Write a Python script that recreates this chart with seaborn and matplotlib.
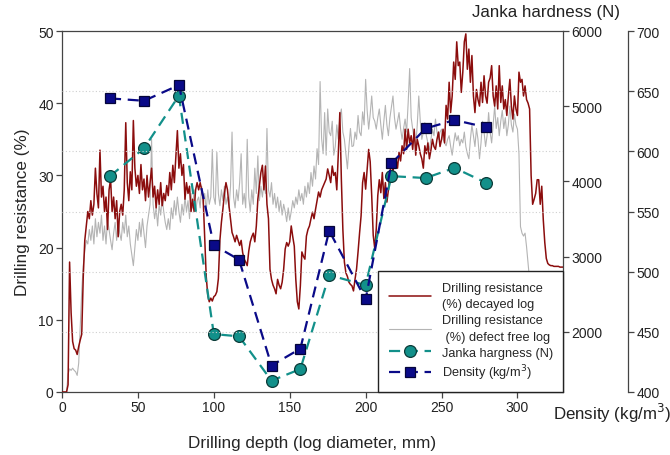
import numpy as np
import pandas as pd
import matplotlib
matplotlib.use("Agg")
import matplotlib.pyplot as plt
from matplotlib.ticker import FixedLocator
import seaborn as sns

# ---- Drilling resistance profiles (%), sampled every 1 mm of drilling depth ----
depth_mm = np.arange(0, 331)

decayed_log = [
    0, 0, 0, 0, 1, 18, 11, 7, 6, 5.8,
    5.2, 6.3, 7.2, 8.0, 16, 21, 23, 25, 24, 26.5,
    24.5, 26, 31, 27.5, 25.5, 33.5, 27, 28.5, 25, 27,
    22.5, 28, 29.5, 25, 27, 24, 26.5, 21.5, 25, 26,
    24.5, 28, 37.3, 29, 26.5, 30.5, 28, 37.6, 31, 28.5,
    30, 27.5, 31.5, 28, 29.5, 26.5, 30, 27, 29, 31,
    27, 28.5, 25.5, 28, 26, 29, 25.8, 27.5, 26.5, 28.6,
    27.2, 30.4, 28, 31.4, 29, 32.5, 36.2, 31, 33, 30,
    31.5, 26.7, 29, 27.5, 28.5, 25, 26.7, 25, 28, 29,
    28, 29, 28, 26.7, 21.2, 16, 13.4, 12.5, 13, 12.6,
    13.2, 13.4, 13.9, 15.7, 21, 23.5, 25.4, 27.5, 29, 28,
    25.8, 24, 22.1, 21.5, 20.8, 21.7, 21, 20.3, 21, 19.3,
    18.4, 18, 17.5, 19.5, 20.8, 21.5, 22, 20.8, 23, 26.7,
    28.5, 30.4, 31.4, 28, 31.3, 26, 24, 17, 15.6, 14.8,
    14.3, 13.6, 15.6, 14.8, 14.3, 15.2, 17, 19.8, 20.7, 20.2,
    20.8, 23, 21.5, 20.2, 15.6, 12.5, 11.5, 14.7, 19.4, 18.8,
    18.4, 21.6, 22.5, 23, 24, 24.9, 24, 25.3, 26.5, 27.7,
    27, 28, 28.5, 29, 29.5, 30.9, 30, 29, 31.3, 30,
    30.4, 28, 33, 38.7, 29.5, 22.5, 18, 16.5, 16, 15.2,
    14.9, 14.7, 14, 15.6, 17, 19.4, 22, 24.4, 29, 30.4,
    28.1, 30.9, 33.6, 31.9, 27.2, 21.7, 19.9, 22.6, 27.2, 29.4,
    27.6, 30.4, 26.8, 29, 26.3, 28, 30.4, 31.9, 30.5, 32,
    32.3, 31, 33.2, 32, 34.1, 33, 36.4, 33.6, 36.4, 34.5,
    35.5, 33.6, 36.4, 32.8, 35, 34.1, 33, 32.3, 31, 34.1,
    33, 34.5, 32.3, 33.5, 35, 34, 33.6, 35, 36, 34,
    35, 36.4, 34.5, 39.7, 37.8, 42.9, 38.7, 41, 45.7, 43.3,
    48.5, 45.2, 45.7, 41.5, 44.3, 48.5, 49.6, 44.7, 47.5, 42.9,
    46.6, 41, 38.7, 41.9, 40.5, 39.6, 42.9, 40.1, 43.8, 41,
    40, 42.9, 43.5, 45.2, 41, 39.6, 42.4, 39.2, 45.2, 40.1,
    42.4, 39.2, 40.5, 38.3, 41, 43.3, 39.6, 37.8, 41, 39.2,
    38.3, 44.3, 42.9, 43.3, 41, 42.4, 40.5, 40, 39.2, 30,
    26, 26.7, 27.5, 29.4, 29.4, 26, 28.5, 23.9, 20.7, 18.5,
    17.8, 17.6, 17.5, 17.5, 17.4, 17.4, 17.4, 17.4, 17.3, 17.3,
    17.3,
]

defect_free_log = [
    0, 0, 0, 0, 2.5, 3.2, 3, 3.3, 3, 2.8,
    2.3, 4, 9, 14, 17.5, 19.5, 21, 20.5, 22.5, 21,
    23, 20.5, 24, 21.5, 23.5, 22, 24.5, 21, 23, 20.5,
    24, 22.5, 21, 19.7, 22, 23.5, 21, 24, 22, 21,
    23.5, 22, 24.5, 21.5, 23, 20.5, 19, 17.5, 20, 22.5,
    21, 23.5, 21.5, 24, 22, 20, 23, 24.5, 26, 35,
    26, 24, 25.5, 23, 26, 24.5, 27, 25, 23.5, 22.5,
    24, 22.5, 25.5, 24, 26.5, 24.5, 27, 25, 23.5, 26,
    24.5, 27, 25, 26.5, 24, 27.5, 25.5, 28, 25, 26.5,
    27, 25.5, 28.5, 26, 27.5, 25, 28, 26, 27, 33.6,
    27, 26, 33.2, 27.5, 25.8, 28, 26.5, 28.5, 26, 27,
    25.5, 28.5, 36, 27, 25.5, 28, 26.5, 29, 33, 26,
    27.5, 25.5, 35, 27, 25, 28, 26, 31, 27.5, 32.7,
    26.5, 28.5, 27, 29, 27.5, 36.5, 28, 27, 29, 26,
    27.5, 25.5, 27, 25, 26.5, 24.5, 26, 25, 23.6, 25.5,
    23.8, 25, 26.5, 25.5, 27, 26, 28, 26.5, 27.5, 26,
    28.5, 27, 29, 27.5, 30.4, 28.5, 31.3, 29.5, 33.7, 31.5,
    43, 35.1, 33, 38.7, 32.8, 39.2, 36, 35.5, 37.5, 32.8,
    34, 37, 35, 38, 39.2, 36, 35, 33, 30.9, 34,
    36.5, 34, 34.1, 36, 35, 38.3, 36, 35.5, 38.8, 37,
    43.3, 39, 36.4, 38.5, 41, 38, 37.5, 36.4, 38, 39.2,
    37, 35, 37.5, 39.7, 37, 35.5, 38, 39.5, 41, 38,
    36.4, 37.5, 38.7, 36.5, 35, 36.5, 37.8, 36, 40, 44.8,
    38, 36.4, 35, 34.1, 37, 41, 37.5, 35, 36, 37.3,
    35.5, 34.5, 33.6, 35, 36.4, 35.5, 37.8, 36, 35, 36,
    36.4, 35, 34.5, 34.1, 35, 35.5, 34, 32.8, 34.5, 35.9,
    34.8, 35.5, 34.1, 35, 34.5, 36, 34, 33, 32.3, 35,
    37, 35.5, 34, 36.5, 35, 32.3, 34.5, 37.5, 36, 34,
    35.5, 38.7, 36, 34.5, 37, 39.6, 36.5, 38, 35.5, 37.5,
    39, 36.5, 38, 35.5, 37, 39.6, 37, 36, 38.5, 37,
    36.4, 33, 22.9, 22, 21.6, 22, 20.1, 17.8, 15.5, 12,
    8,
]
defect_free_depth = depth_mm[:len(defect_free_log)]

# ---- Wood properties along the same drilling path ----
sample_depth = [31.6, 54, 77, 100, 116.6, 138, 157, 176, 200, 217, 239.5, 258.5, 279.5]
janka_hardness = [4070, 4440, 5140, 1970, 1940, 1350, 1505, 2755, 2620, 4070, 4045, 4180, 3980]
density = [644, 642, 655, 522, 510, 422, 436, 534, 477, 590, 619, 626, 620]

RED = "#8b0d0d"
GREY = "#b4b4b4"
TEAL = "#12908a"
NAVY = "#0a0a88"
SPINE = "#444444"

sns.set_theme(style="ticks")
plt.rcParams["font.family"] = ["Liberation Sans", "DejaVu Sans"]
plt.rcParams["axes.edgecolor"] = SPINE
plt.rcParams["xtick.color"] = SPINE
plt.rcParams["ytick.color"] = SPINE
plt.rcParams["xtick.labelcolor"] = "#222222"
plt.rcParams["ytick.labelcolor"] = "#222222"

fig = plt.figure(figsize=(6.7, 4.56), dpi=100)
ax = fig.add_axes([62 / 670, 1 - 393 / 456, (563 - 62) / 670, (393 - 32) / 456])
ax2 = ax.twinx()
ax3 = ax.twinx()

df_sound = pd.DataFrame({"depth": defect_free_depth, "res": defect_free_log})
df_decay = pd.DataFrame({"depth": depth_mm, "res": decayed_log})
df_props = pd.DataFrame({"depth": sample_depth, "janka": janka_hardness, "density": density})

sns.lineplot(data=df_sound, x="depth", y="res", ax=ax, color=GREY, linewidth=0.8,
             label="Drilling resistance\n (%) defect free log", legend=False, zorder=2)
sns.lineplot(data=df_decay, x="depth", y="res", ax=ax, color=RED, linewidth=1.1,
             label="Drilling resistance\n(%) decayed log", legend=False, zorder=3)

sns.lineplot(data=df_props, x="depth", y="janka", ax=ax2, color=TEAL, linewidth=1.6,
             marker="o", markersize=8.5, markerfacecolor=TEAL, markeredgecolor="#0b3b38",
             markeredgewidth=0.9, label="Janka hargness (N)", legend=False)
sns.lineplot(data=df_props, x="depth", y="density", ax=ax3, color=NAVY, linewidth=1.6,
             marker="s", markersize=7.5, markerfacecolor=NAVY, markeredgecolor="#05053a",
             markeredgewidth=0.9, label="Density (kg/m$^3$)", legend=False)
ax2.lines[0].set_dashes((5, 3))
ax3.lines[0].set_dashes((5, 3))

# Axis ranges and ticks
ax.set_xlim(0, 330)
ax.set_ylim(0, 50)
ax.set_xticks([0, 50, 100, 150, 200, 250, 300])
ax.set_yticks([0, 10, 20, 30, 40, 50])
ax2.set_ylim(1200, 6000)
ax2.set_yticks([2000, 3000, 4000, 5000, 6000])
ax3.set_ylim(400, 700)
ax3.set_yticks([400, 450, 500, 550, 600, 650, 700])

for a in (ax, ax2, ax3):
    a.set_xlabel("")
    a.set_ylabel("")
    a.tick_params(labelsize=10, length=4, width=0.9, direction="out", pad=2)
    for s in a.spines.values():
        s.set_linewidth(0.9)
        s.set_color(SPINE)

ax.spines["top"].set_visible(True)
ax.spines["right"].set_visible(False)
ax2.spines["right"].set_visible(True)
for s in ("left", "top", "bottom"):
    ax2.spines[s].set_visible(False)
    ax3.spines[s].set_visible(False)
ax3.spines["right"].set_position(("outward", 47))

# Faint dotted reference lines at the inner density ticks
ax3.yaxis.remove_overlapping_locs = False
ax3.yaxis.set_minor_locator(FixedLocator([450, 500, 550, 600, 650]))
ax3.tick_params(axis="y", which="minor", length=0)
ax3.yaxis.grid(False, which="major")
ax3.yaxis.grid(True, which="minor", linestyle=(0, (1, 2)), color="#cfcfcf", linewidth=0.8)

# Labels
ax.set_xlabel("Drilling depth (log diameter, mm)", fontsize=12.3, labelpad=15)
ax.set_ylabel("Drilling resistance (%)", fontsize=12.3, labelpad=6)
fig.text(620 / 670, 1 - 13 / 456, "Janka hardness (N)", ha="right", va="center",
         fontsize=12.2, color="#222222")
fig.text(553 / 670, 1 - 413 / 456, "Density (kg/m$^3$)", ha="left", va="center",
         fontsize=12.2, color="#222222")

# Shared legend on the top-most axes
handles, labels = [], []
for a in (ax, ax2, ax3):
    h, l = a.get_legend_handles_labels()
    handles += h
    labels += l
order = [1, 0, 2, 3]
leg = ax3.legend([handles[i] for i in order], [labels[i] for i in order],
                 loc="lower right", borderaxespad=0, fontsize=9.2, frameon=True,
                 fancybox=False, edgecolor="#222222", framealpha=1, handlelength=3.3,
                 handletextpad=0.85, labelspacing=0.28, borderpad=0.8)
for t in leg.get_texts():
    t.set_linespacing(1.55)
leg.get_frame().set_linewidth(1.0)
leg.set_zorder(10)

fig.savefig("out.png", dpi=100)
